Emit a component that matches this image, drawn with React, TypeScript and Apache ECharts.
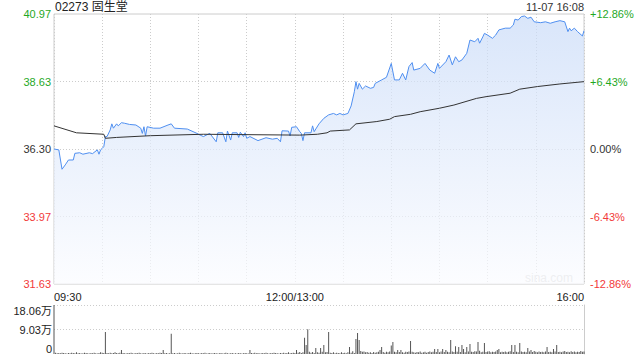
import React, { useEffect, useRef } from 'react';
import * as echarts from 'echarts';

const titleText = '02273 固生堂';
const timeStamp = '11-07 16:08';
const watermark = 'sina.com';
const priceTickLabels = ['31.63', '33.97', '36.30', '38.63', '40.97'];
const pctTickLabels = ['-12.86%', '-6.43%', '0.00%', '+6.43%', '+12.86%'];
const volumeTickLabels = ['0', '9.03万', '18.06万'];
const timeTickMinutes = [0, 150, 330];
const timeTickLabels = ['09:30', '12:00/13:00', '16:00'];

const priceMinutes = [
  0, 3, 5, 7, 9, 12, 13, 16, 18, 22, 24, 27, 28, 29, 30, 31, 32, 33, 35, 36,
  37, 39, 40, 42, 44, 47, 51, 54, 55, 56, 57, 58, 62, 66, 71, 73, 75, 83, 89, 91,
  93, 97, 101, 102, 105, 107, 108, 110, 111, 114, 115, 116, 118, 119, 120, 122, 127, 132, 136, 139,
  141, 142, 146, 147, 148, 151, 153, 154, 155, 156, 160, 161, 162, 165, 168, 171, 174, 176, 178, 180,
  183, 185, 187, 188, 189, 190, 192, 194, 197, 199, 200, 204, 207, 210, 212, 215, 217, 219, 221, 223,
  224, 228, 231, 234, 237, 239, 240, 244, 246, 248, 250, 252, 254, 257, 259, 262, 264, 265, 267, 268,
  270, 273, 275, 277, 281, 284, 286, 287, 289, 291, 293, 295, 297, 299, 303, 306, 309, 312, 315, 318,
  320, 321, 322, 324, 326, 329, 330,
];
const priceValues = [
  36.30, 36.27, 35.60, 35.75, 35.92, 35.92, 36.15, 36.17, 36.12, 36.17, 36.14, 36.27, 36.12, 36.27, 36.32, 36.38, 36.73, 36.73, 36.96, 37.17,
  37.02, 37.17, 37.10, 37.21, 37.19, 37.15, 37.13, 37.02, 36.84, 37.07, 36.75, 37.07, 37.02, 37.02, 37.13, 37.17, 37.02, 36.99, 36.84, 36.78,
  36.73, 36.84, 36.55, 36.86, 36.86, 36.55, 36.92, 36.61, 36.86, 36.86, 36.70, 36.88, 36.73, 36.86, 36.67, 36.73, 36.59, 36.69, 36.64, 36.67,
  36.55, 36.93, 36.92, 36.75, 37.05, 37.07, 36.90, 36.84, 36.59, 36.86, 36.86, 37.10, 36.90, 37.17, 37.36, 37.48, 37.53, 37.48, 37.53, 37.48,
  37.53, 37.79, 38.28, 38.63, 38.37, 38.57, 38.37, 38.48, 38.40, 38.43, 38.57, 38.69, 38.78, 39.26, 38.69, 38.69, 38.92, 38.69, 39.15, 39.29,
  39.03, 39.09, 39.26, 39.03, 38.92, 39.26, 39.09, 39.32, 39.55, 39.21, 39.49, 39.32, 39.38, 39.61, 40.07, 40.01, 40.13, 39.96, 40.18, 40.30,
  40.24, 40.13, 40.24, 40.42, 40.48, 40.48, 40.59, 40.79, 40.76, 40.88, 40.90, 40.82, 40.86, 40.70, 40.67, 40.70, 40.65, 40.70, 40.74, 40.70,
  40.36, 40.48, 40.39, 40.48, 40.36, 40.21, 40.39,
];

const avgMinutes = [0, 14, 31, 32, 39, 60, 93, 153, 164, 170, 172, 184, 188, 201, 209, 212, 222, 228, 240, 249, 263, 269, 284, 290, 301, 315, 330];
const avgValues = [37.10, 36.86, 36.81, 36.67, 36.70, 36.76, 36.81, 36.78, 36.81, 36.86, 36.92, 36.96, 37.17, 37.25, 37.33, 37.42, 37.50, 37.59, 37.71, 37.82, 38.05, 38.11, 38.23, 38.37, 38.46, 38.55, 38.63];

// volume per minute (万股), minutes 0..330
const volumes = [
  18.06, 0.5, 0.3, 0.4, 0.3, 0.5, 0.4, 0.3, 0.2, 0.4,
  0.3, 0.5, 0.4, 0.3, 0.6, 0.3, 0.4, 0.2, 0.3, 0.5,
  0.4, 0.3, 0.2, 0.4, 0.3, 0.5, 0.3, 0.2, 0.4, 0.6,
  0.5, 0.4, 8.1, 0.4, 0.3, 0.5, 0.3, 0.4, 0.6, 0.4,
  0.3, 0.5, 1.5, 0.4, 0.3, 0.2, 0.4, 0.3, 0.5, 0.3,
  0.2, 0.4, 0.3, 0.5, 0.3, 0.2, 0.4, 0.3, 0.2, 0.4,
  0.3, 0.5, 0.3, 0.2, 0.4, 0.3, 0.5, 0.4, 1.5, 0.3,
  0.4, 0.2, 0.3, 7.5, 0.3, 0.4, 0.2, 0.3, 0.5, 0.3,
  0.2, 0.4, 0.3, 0.2, 0.4, 0.5, 0.3, 0.2, 0.3, 0.4,
  0.3, 0.2, 0.4, 0.3, 0.5, 0.2, 0.3, 0.4, 0.2, 0.3,
  0.4, 0.3, 0.2, 0.3, 0.4, 0.2, 0.3, 0.5, 0.3, 0.2,
  0.3, 0.4, 0.2, 0.3, 0.2, 0.4, 0.3, 0.2, 0.3, 0.4,
  0.3, 0.2, 1.5, 0.4, 0.3, 0.5, 0.3, 0.4, 0.2, 0.3,
  0.4, 0.3, 0.5, 0.3, 0.2, 0.4, 0.3, 0.5, 0.4, 0.3,
  0.2, 0.4, 0.3, 0.5, 0.3, 0.4, 0.6, 0.3, 0.4, 0.5,
  0.4, 1.5, 0.5, 0.7, 0.4, 0.6, 6.0, 3.3, 9.1, 0.8,
  0.5, 0.7, 0.4, 2.2, 0.6, 0.5, 2.2, 0.8, 3.3, 0.6,
  0.7, 8.1, 0.5, 0.4, 0.6, 0.3, 0.5, 0.4, 0.3, 0.6,
  0.4, 0.5, 0.3, 0.6, 2.6, 0.5, 1.0, 0.4, 5.5, 7.7,
  5.2, 1.1, 0.8, 0.9, 0.6, 0.7, 0.5, 0.6, 0.4, 0.7,
  0.5, 0.6, 0.8, 1.5, 2.6, 0.7, 0.5, 0.8, 0.6, 0.9,
  3.1, 4.4, 0.8, 0.6, 1.5, 0.7, 1.5, 0.6, 0.5, 0.8,
  0.7, 0.9, 4.8, 0.8, 0.6, 0.5, 0.7, 0.6, 0.9, 0.5,
  0.6, 0.8, 0.5, 0.7, 0.9, 0.6, 0.8, 1.8, 0.7, 1.8,
  0.6, 0.9, 1.8, 0.7, 1.5, 0.8, 0.6, 5.2, 0.9, 0.7,
  2.9, 0.8, 2.6, 0.7, 3.3, 1.8, 0.6, 2.6, 0.9, 3.7,
  0.8, 0.7, 1.0, 0.9, 4.4, 1.2, 0.6, 0.8, 4.1, 0.7,
  0.9, 1.0, 0.6, 0.8, 0.7, 0.9, 1.5, 1.8, 0.6, 0.8,
  0.7, 0.9, 0.6, 0.8, 1.0, 3.3, 0.7, 3.3, 0.8, 0.6,
  4.1, 0.9, 0.7, 0.8, 0.6, 2.2, 0.9, 1.5, 0.7, 1.1,
  0.8, 0.6, 0.9, 0.7, 0.8, 0.6, 0.9, 2.6, 0.7, 0.8,
  0.6, 1.8, 0.9, 3.3, 0.7, 0.8, 0.6, 0.9, 1.1, 0.7,
  0.8, 0.6, 1.0, 0.7, 0.9, 0.6, 0.8, 0.7, 1.1, 0.8,
  0.9,
];

const FONT = "'Liberation Sans', Arial, 'Noto Sans CJK SC', sans-serif";
const GREEN = '#1fa81f';
const RED = '#f23a3a';
const DARK = '#333333';

function levelColor(v: any) {
  const n = Math.round(Number(v));
  return n < 2 ? RED : n > 2 ? GREEN : DARK;
}

export default function App() {
  const ref = useRef<HTMLDivElement>(null);
  useEffect(() => {
    if (!ref.current) return;
    const chart = echarts.init(ref.current, null, { renderer: 'svg' });
    const priceData = priceMinutes.map((m, i) => [m, priceValues[i]]);
    const avgData = avgMinutes.map((m, i) => [m, avgValues[i]]);
    const volData = volumes.map((v, i) => [i, v]);
    const option: any = {
      animation: false,
      textStyle: { fontFamily: FONT },
      title: [
        { text: titleText, left: 55, top: 1, padding: 0, textStyle: { fontSize: 12, fontWeight: 'normal', color: '#222', fontFamily: FONT } },
        { text: timeStamp, right: 56, top: 1, padding: 0, textStyle: { fontSize: 11, fontWeight: 'normal', color: '#333', fontFamily: FONT } },
      ],
      graphic: [
        { type: 'text', right: 67, top: 272, style: { text: watermark, fill: '#cfcfcf', font: `12px ${FONT}` }, z: 1 },
      ],
      grid: [
        { left: 54, top: 14, width: 530, height: 270, show: true, borderColor: '#cccccc', borderWidth: 1, backgroundColor: 'transparent' },
        { left: 54, top: 305, width: 530, height: 49, show: false },
      ],
      xAxis: [
        {
          type: 'value', gridIndex: 0, min: 0, max: 330, interval: 30,
          axisLine: { show: false }, axisTick: { show: false },
          splitLine: { show: true, lineStyle: { color: '#cccccc', type: [1, 2], width: 1 } },
          axisLabel: {
            show: true, customValues: timeTickMinutes, margin: 7, fontSize: 11, color: '#222', fontFamily: FONT,
            alignMinLabel: 'left', alignMaxLabel: 'right',
            formatter: (v: number) => timeTickLabels[timeTickMinutes.indexOf(Math.round(v))] ?? '',
          },
        },
        {
          type: 'value', gridIndex: 1, min: 0, max: 330,
          axisLine: { show: false }, axisTick: { show: false }, axisLabel: { show: false }, splitLine: { show: false },
        },
      ],
      yAxis: [
        { type: 'value', gridIndex: 0, min: 31.63, max: 40.97, show: false, splitLine: { show: false } },
        {
          type: 'value', gridIndex: 0, min: 0, max: 4, interval: 1, position: 'left',
          axisLine: { show: false }, axisTick: { show: false },
          splitLine: { show: true, showMinLine: false, showMaxLine: false, lineStyle: { color: '#cccccc', type: [1, 2], width: 1 } },
          axisLabel: {
            margin: 3, fontSize: 11, fontFamily: FONT,
            formatter: (v: number) => priceTickLabels[Math.round(v)],
            color: (v: any) => levelColor(v),
          },
        },
        {
          type: 'value', gridIndex: 0, min: 0, max: 4, interval: 1, position: 'right',
          axisLine: { show: false }, axisTick: { show: false }, splitLine: { show: false },
          axisLabel: {
            margin: 6, fontSize: 11, fontFamily: FONT,
            formatter: (v: number) => pctTickLabels[Math.round(v)],
            color: (v: any) => levelColor(v),
          },
        },
        {
          type: 'value', gridIndex: 1, min: 0, max: 18.06, interval: 9.03, position: 'left',
          axisLine: { show: false }, axisTick: { show: false },
          splitLine: { show: true, showMinLine: false, lineStyle: { color: '#cccccc', type: [1, 2], width: 1 } },
          axisLabel: {
            margin: 2, fontSize: 11, color: '#222', fontFamily: FONT,
            verticalAlignMinLabel: 'bottom', verticalAlignMaxLabel: 'top',
            formatter: (v: number) => volumeTickLabels[Math.round(v / 9.03)],
          },
        },
        {
          type: 'value', gridIndex: 1, min: 0, max: 18.06, position: 'right',
          axisLine: { show: true, lineStyle: { color: '#cccccc', width: 1 } },
          axisTick: { show: false }, axisLabel: { show: false }, splitLine: { show: false },
        },
      ],
      series: [
        {
          type: 'line', xAxisIndex: 0, yAxisIndex: 0, data: priceData, showSymbol: false, symbol: 'none',
          lineStyle: { color: '#4f8ff0', width: 1 },
          areaStyle: {
            origin: 'start',
            color: new echarts.graphic.LinearGradient(0, 0, 0, 1, [
              { offset: 0, color: '#c9dbf8' },
              { offset: 1, color: '#fbfcff' },
            ]),
          },
          z: 3,
        },
        {
          type: 'line', xAxisIndex: 0, yAxisIndex: 0, data: avgData, showSymbol: false, symbol: 'none',
          lineStyle: { color: '#333333', width: 1 }, z: 4,
        },
        {
          type: 'bar', xAxisIndex: 1, yAxisIndex: 3, data: volData, barWidth: 1,
          itemStyle: { color: '#555555' }, z: 3,
        },
      ],
    };
    chart.setOption(option);
    return () => chart.dispose();
  }, []);
  return <div ref={ref} style={{ position: 'absolute', left: 0, top: 0, width: 640, height: 360 }} />;
}
